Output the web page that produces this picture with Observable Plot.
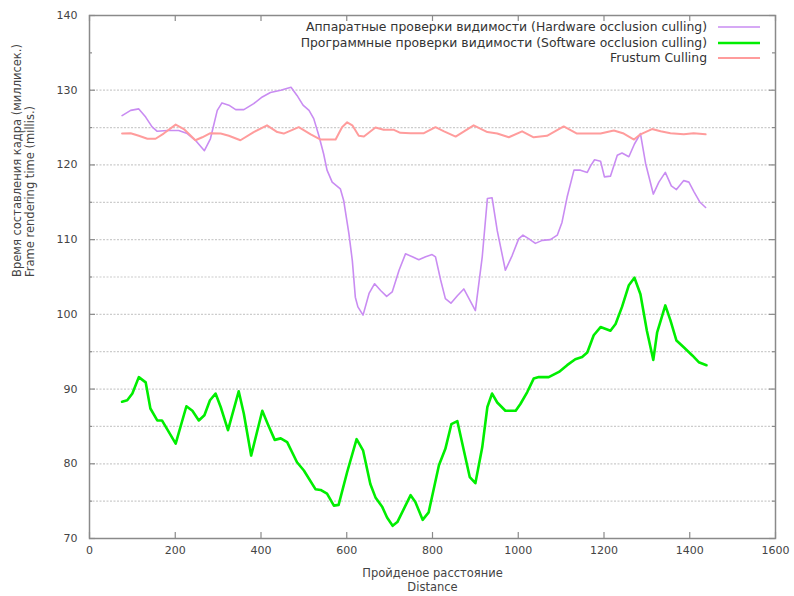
<!DOCTYPE html>
<html>
<head>
<meta charset="utf-8">
<script src="https://cdn.jsdelivr.net/npm/d3@7"></script>
<script src="https://cdn.jsdelivr.net/npm/@observablehq/plot@0.6"></script>
<style>
  html, body { margin: 0; padding: 0; background: #fff; }
  #chart { width: 794px; height: 596px; }
</style>
</head>
<body>
<div id="chart"></div>
<script>
// ---- Data ----
const seriesNames = [
  "Аппаратные проверки видимости (Hardware occlusion culling)",
  "Программные проверки видимости (Software occlusion culling)",
  "Frustum Culling"
];
const seriesColors = ["#c98cf2", "#00ee00", "#ff9c9c"];

const hwX = [76,96,115,131,146,158,181,208,228,247,268,282,298,309,325,341,360,383,403,422,446,470,484,498,512,523,535,546,554,566,585,593,605,613,620,626,638,652,665,679,693,706,722,737,753,768,784,799,807,819,830,843,858,873,887,900,916,928,939,951,970,986,1001,1011,1025,1040,1056,1075,1091,1102,1114,1130,1145,1161,1169,1178,1192,1201,1215,1231,1242,1258,1271,1285,1297,1315,1328,1343,1357,1369,1386,1398,1410,1424,1437];
const hwY = [126.6,127.3,127.5,126.4,125.1,124.5,124.6,124.6,124.2,123.3,121.9,123.5,127.3,128.3,128.0,127.4,127.4,128.2,129.1,129.7,130.0,130.4,129.3,128.0,127.3,126.2,123.9,121.5,119.3,117.7,116.8,115.2,110.8,107.2,102.3,101.0,99.9,102.8,104.1,103.2,102.4,103.0,105.9,108.1,107.7,107.3,107.7,108.0,107.7,104.6,102.1,101.5,102.5,103.4,101.9,100.5,107.7,115.5,115.6,111.2,105.9,107.9,110.1,110.6,110.1,109.5,109.9,110.0,110.6,112.3,115.7,119.3,119.3,119.0,119.9,120.7,120.5,118.4,118.5,121.3,121.6,121.1,122.8,124.2,120.2,116.1,117.7,119.0,117.2,116.7,117.9,117.7,116.4,115.0,114.3];

const swX = [76,88,100,115,131,142,158,169,201,226,240,255,268,281,294,306,323,348,360,377,403,416,432,446,461,484,500,527,539,554,570,581,601,623,638,655,667,683,694,707,718,749,760,777,791,815,830,844,858,873,887,900,916,928,939,951,970,994,1005,1021,1036,1048,1071,1095,1114,1133,1149,1161,1176,1192,1215,1227,1242,1258,1271,1285,1300,1315,1324,1343,1355,1369,1386,1406,1421,1439];
const swY = [88.3,88.5,89.4,91.6,90.9,87.4,85.8,85.8,82.7,87.7,87.1,85.8,86.5,88.5,89.4,87.6,84.5,89.7,86.7,81.1,87.1,85.3,83.2,83.4,82.9,80.2,79.1,76.6,76.5,76.0,74.4,74.5,78.9,83.3,81.8,77.3,75.5,74.2,72.8,71.7,72.2,75.8,74.9,72.5,73.5,79.8,82.0,85.3,85.7,81.8,78.2,77.4,82.2,87.6,89.4,88.2,87.1,87.1,88.0,89.6,91.4,91.6,91.6,92.3,93.2,94.0,94.3,94.9,97.2,98.3,97.8,98.7,101.0,103.9,104.9,102.7,97.8,93.9,97.6,101.2,99.2,96.5,95.6,94.5,93.6,93.2];

const fcX = [76,96,115,135,154,173,201,220,247,263,282,306,325,352,383,414,438,453,488,516,539,574,589,601,613,628,640,667,686,710,725,749,780,807,827,854,896,928,951,978,1009,1036,1067,1106,1137,1169,1192,1223,1246,1270,1285,1312,1332,1355,1386,1409,1437];
const fcY = [124.2,124.25,123.9,123.5,123.5,124.2,125.4,124.8,123.3,123.7,124.25,124.2,123.9,123.3,124.4,125.3,124.4,124.2,125.05,124.1,123.4,123.4,125.05,125.7,125.3,123.9,123.8,125.0,124.7,124.7,124.3,124.25,124.25,125.05,124.5,123.8,125.3,124.4,124.2,123.7,124.5,123.7,123.9,125.15,124.2,124.2,124.2,124.6,124.2,123.4,124.1,124.8,124.5,124.25,124.1,124.25,124.1];

const xTicks = [0,200,400,600,800,1000,1200,1400,1600];
const yTicks = [70,80,90,100,110,120,130,140];
const yMinorTicks = [75,85,95,105,115,125,135];
const yGrid = [75,80,85,90,95,100,105,110,115,120,125,130];
const xLabel = ["Пройденое расстояние", "Distance"];
const yLabel = ["Время составления кадра (миллисек.)", "Frame rendering time (millis.)"];

// ---- Build ----
const toRows = (xs, ys) => xs.map((x, i) => ({x, y: ys[i]}));
const hw = toRows(hwX, hwY), sw = toRows(swX, swY), fc = toRows(fcX, fcY);

const W = 794, H = 596, mL = 89, mR = 19, mT = 15, mB = 58;
const fw = W - mL - mR, fh = H - mT - mB;
const axisColor = "#8a8a8a";
const textColor = "#444";

const plot = Plot.plot({
  width: W, height: H,
  marginLeft: mL, marginRight: mR, marginTop: mT, marginBottom: mB,
  style: {fontFamily: "DejaVu Sans, sans-serif", fontSize: "11px", color: textColor, background: "#fff"},
  x: {domain: [0, 1600]},
  y: {domain: [70, 140]},
  marks: [
    Plot.ruleY(yGrid, {y: d => d, stroke: "#cccccc", strokeDasharray: "2,1.5", strokeWidth: 1.2}),
    Plot.lineY(hw, {x: "x", y: "y", stroke: seriesColors[0], strokeWidth: 1.6}),
    Plot.lineY(sw, {x: "x", y: "y", stroke: seriesColors[1], strokeWidth: 2.6}),
    Plot.lineY(fc, {x: "x", y: "y", stroke: seriesColors[2], strokeWidth: 2}),
    Plot.frame({stroke: axisColor, strokeWidth: 1.5}),
    // inward ticks
    Plot.tickY(yTicks, {y: d => d, stroke: axisColor, strokeWidth: 1.2, insetRight: fw - 6}),
    Plot.tickY(yTicks, {y: d => d, stroke: axisColor, strokeWidth: 1.2, insetLeft: fw - 6}),
    Plot.tickY(yMinorTicks, {y: d => d, stroke: axisColor, strokeWidth: 1.2, insetRight: fw - 3}),
    Plot.tickY(yMinorTicks, {y: d => d, stroke: axisColor, strokeWidth: 1.2, insetLeft: fw - 3}),
    Plot.tickX(xTicks, {x: d => d, stroke: axisColor, strokeWidth: 1.2, insetTop: fh - 6}),
    Plot.tickX(xTicks, {x: d => d, stroke: axisColor, strokeWidth: 1.2, insetBottom: fh - 6}),
    Plot.axisY(yTicks, {tickSize: 0, tickPadding: 12, label: null, fill: textColor, tickFormat: d => String(d)}),
    Plot.axisX(xTicks, {tickSize: 0, tickPadding: 8, label: null, fill: textColor, tickFormat: d => String(d)}),
    // axis labels
    Plot.text([xLabel[0]], {text: d => d, frameAnchor: "bottom", dy: 38, fill: textColor, fontSize: 11.5}),
    Plot.text([xLabel[1]], {text: d => d, frameAnchor: "bottom", dy: 52, fill: textColor, fontSize: 11.5}),
    Plot.text([yLabel[0]], {text: d => d, frameAnchor: "left", dx: -72, rotate: -90, fill: textColor, fontSize: 11.5}),
    Plot.text([yLabel[1]], {text: d => d, frameAnchor: "left", dx: -59, rotate: -90, fill: textColor, fontSize: 11.5})
  ]
});
document.getElementById("chart").appendChild(plot);

// legend (key) drawn inside the plot area, top right, gnuplot style
const svg = d3.select(plot);
const legendRowsY = [27, 43, 58];
const key = svg.append("g")
  .attr("font-family", "DejaVu Sans, sans-serif")
  .attr("font-size", 12.4)
  .attr("fill", "#333");
seriesNames.forEach((n, i) => {
  key.append("text")
    .attr("x", 707).attr("y", legendRowsY[i]).attr("dy", "0.35em")
    .attr("text-anchor", "end")
    .text(n);
  key.append("line")
    .attr("x1", 718).attr("x2", 760)
    .attr("y1", legendRowsY[i]).attr("y2", legendRowsY[i])
    .attr("stroke", seriesColors[i])
    .attr("stroke-width", i === 1 ? 2.6 : (i === 0 ? 1.6 : 2));
});
</script>
</body>
</html>
